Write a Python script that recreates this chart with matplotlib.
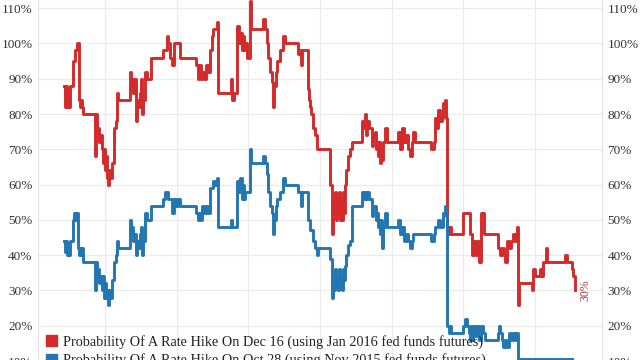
import numpy as np
import matplotlib
matplotlib.use("Agg")
import matplotlib.pyplot as plt
from matplotlib.patches import Patch

# (observation index, hike probability %) step points for each series
dec_steps = [(0, 88), (1, 82), (2, 88), (3, 82), (4, 86), (5, 82), (6, 88), (8, 88), (9, 95),
             (11, 98), (13, 100), (15, 84), (16, 82), (17, 84), (18, 82), (19, 80), (31, 80),
             (31, 68), (32, 80), (33, 74), (34, 76), (35, 72), (36, 74), (38, 70), (39, 66),
             (40, 70), (41, 64), (42, 68), (43, 62), (44, 60), (45, 64), (46, 62), (48, 66),
             (50, 76), (52, 78), (53, 86), (54, 84), (65, 84), (66, 92), (67, 88), (68, 90),
             (69, 86), (70, 90), (72, 78), (73, 84), (74, 82), (76, 86), (77, 90), (78, 80),
             (79, 84), (81, 92), (83, 90), (87, 96), (98, 96), (99, 98), (103, 102),
             (104, 100), (106, 96), (108, 94), (110, 100), (115, 100), (116, 96), (131, 96),
             (132, 94), (134, 90), (135, 94), (137, 90), (138, 92), (140, 90), (142, 94),
             (144, 92), (146, 98), (148, 102), (149, 104), (153, 106), (154, 86), (166, 86),
             (167, 90), (168, 84), (170, 86), (173, 105), (175, 100), (176, 103), (178, 98),
             (179, 102), (180, 98), (181, 100), (183, 96), (186, 112), (187, 104), (198, 104),
             (199, 107), (201, 104), (203, 100), (204, 96), (206, 92), (208, 89), (209, 82),
             (210, 88), (212, 92), (213, 95), (216, 98), (219, 102), (221, 100), (233, 100),
             (234, 97), (236, 98), (237, 94), (238, 98), (244, 87), (245, 84), (246, 82),
             (247, 80), (249, 76), (251, 74), (253, 70), (264, 70), (266, 60), (268, 46),
             (269, 56), (270, 52), (271, 58), (272, 50), (273, 56), (274, 52), (275, 58),
             (276, 50), (277, 55), (278, 50), (279, 58), (280, 52), (281, 60), (282, 64),
             (284, 68), (286, 70), (288, 72), (298, 72), (298, 78), (300, 76), (301, 80),
             (302, 74), (303, 78), (305, 76), (308, 71), (309, 74), (311, 75), (312, 70),
             (313, 72), (314, 68), (315, 72), (316, 66), (317, 70), (318, 67), (319, 72),
             (321, 76), (323, 72), (333, 72), (334, 75), (336, 70), (338, 76), (340, 72),
             (342, 74), (344, 70), (346, 68), (348, 72), (349, 75), (351, 72), (366, 72),
             (367, 70), (370, 72), (371, 79), (373, 76), (374, 81), (376, 78), (378, 79),
             (379, 83), (381, 84), (382, 79), (383, 48), (385, 46), (386, 48), (387, 46),
             (398, 46), (399, 52), (405, 52), (406, 46), (408, 40), (410, 44), (412, 40),
             (414, 44), (415, 38), (417, 52), (419, 52), (420, 46), (433, 46), (434, 42),
             (436, 40), (438, 42), (440, 40), (441, 38), (443, 44), (445, 42), (447, 44),
             (449, 46), (451, 44), (452, 46), (453, 48), (454, 26), (455, 32), (466, 32),
             (468, 30), (469, 36), (471, 34), (475, 34), (476, 36), (477, 34), (479, 38),
             (481, 38), (482, 42), (483, 38), (499, 38), (501, 40), (503, 38), (507, 38),
             (508, 36), (509, 34), (511, 30)]

oct_steps = [(0, 44), (1, 41), (2, 44), (3, 40), (4, 42), (5, 40), (6, 44), (8, 44), (9, 50),
             (10, 52), (11, 50), (12, 52), (14, 42), (15, 40), (16, 42), (17, 40), (18, 42),
             (19, 38), (31, 38), (31, 30), (32, 38), (33, 34), (34, 36), (35, 32), (36, 34),
             (38, 30), (39, 34), (40, 28), (41, 32), (42, 28), (43, 30), (44, 26), (45, 30),
             (46, 28), (48, 33), (50, 38), (52, 40), (53, 44), (54, 42), (65, 42), (66, 50),
             (67, 46), (68, 48), (69, 44), (70, 46), (72, 40), (73, 44), (74, 42), (76, 46),
             (77, 48), (78, 40), (79, 44), (81, 52), (83, 50), (87, 54), (98, 54), (99, 56),
             (101, 58), (103, 58), (104, 56), (106, 56), (108, 52), (110, 56), (112, 54),
             (114, 56), (116, 54), (131, 54), (132, 52), (134, 50), (135, 52), (137, 50),
             (138, 54), (140, 52), (142, 54), (144, 52), (146, 59), (149, 61), (151, 60),
             (153, 62), (154, 48), (166, 48), (167, 50), (168, 48), (173, 61), (175, 58),
             (176, 62), (178, 56), (179, 60), (180, 56), (181, 58), (183, 58), (186, 70),
             (187, 66), (198, 66), (199, 68), (201, 66), (203, 63), (204, 58), (206, 54),
             (208, 52), (209, 46), (210, 50), (212, 54), (213, 56), (216, 58), (219, 62),
             (221, 60), (233, 60), (234, 58), (236, 58), (237, 54), (238, 58), (244, 50),
             (246, 47), (249, 44), (251, 42), (253, 40), (254, 42), (264, 42), (266, 39),
             (268, 28), (269, 32), (270, 30), (271, 36), (272, 31), (273, 34), (274, 30),
             (275, 36), (276, 32), (277, 34), (278, 30), (279, 36), (280, 33), (281, 37),
             (282, 40), (284, 43), (286, 44), (288, 54), (298, 54), (298, 58), (300, 56),
             (301, 58), (302, 56), (303, 58), (305, 56), (308, 51), (309, 54), (311, 54),
             (312, 50), (313, 52), (314, 48), (315, 50), (316, 46), (317, 50), (318, 42),
             (319, 48), (321, 52), (323, 48), (333, 48), (334, 50), (336, 46), (338, 48),
             (340, 44), (342, 46), (344, 44), (346, 42), (348, 44), (349, 46), (366, 46),
             (367, 44), (370, 46), (371, 48), (374, 50), (376, 48), (379, 52), (381, 54),
             (382, 51), (383, 20), (385, 18), (386, 20), (387, 18), (398, 18), (399, 20),
             (401, 22), (403, 20), (405, 18), (406, 16), (407, 20), (408, 16), (409, 20),
             (411, 17), (413, 20), (415, 16), (417, 20), (419, 18), (421, 16), (433, 16),
             (434, 18), (435, 20), (436, 18), (438, 16), (439, 14), (441, 16), (443, 14),
             (445, 18), (447, 16), (449, 18), (451, 16), (452, 18), (453, 18), (454, 10.5),
             (508, 10.5)]

y_ticks = list(range(10, 120, 10))
x_grid = [41, 113, 184, 256, 328, 399, 471]
last_label = "30%"
dec_label = "Probability Of A Rate Hike On Dec 16 (using Jan 2016 fed funds futures)"
oct_label = "Probability Of A Rate Hike On Oct 28 (using Nov 2015 fed funds futures)"

dec_obs, dec_prob = zip(*dec_steps)
oct_obs, oct_prob = zip(*oct_steps)

red = "#d42a2a"
blue = "#2276b2"
grid_c = "#ebebeb"
txt_c = "#333333"
serif = "Liberation Serif"

fig = plt.figure(figsize=(6.4, 3.6), dpi=100)
# axes runs past the bottom edge, like the cropped original
ax = fig.add_axes([38 / 640, -0.052, 564 / 640, 1.052])

ax.step(dec_obs, dec_prob, where="post", color=red, lw=2.1)
ax.step(oct_obs, oct_prob, where="post", color=blue, lw=2.1)

ax.set_xlim(-26, 538)
ax.set_ylim(5, 112.3)
ax.set_yticks(y_ticks)
ax.set_yticklabels([f"{t}%" for t in y_ticks])
ax.set_xticks(x_grid)
ax.set_xticklabels([])
ax.tick_params(axis="x", length=0)
ax.tick_params(axis="y", length=0, pad=4, labelsize=9.5, labelcolor=txt_c,
               left=True, right=True, labelleft=True, labelright=True)
for lab in ax.get_yticklabels():
    lab.set_fontfamily(serif)
ax.grid(True, color=grid_c, lw=0.9)
ax.set_axisbelow(True)
for side in ["top", "bottom"]:
    ax.spines[side].set_visible(False)
for side in ["left", "right"]:
    ax.spines[side].set_color("#e4e4e4")
    ax.spines[side].set_linewidth(0.9)

# end-of-line value label
ax.annotate(last_label, xy=(dec_obs[-1], dec_prob[-1]), xytext=(3, 0),
            textcoords="offset points", rotation=90, ha="left", va="center",
            color="#b03030", fontsize=8.5, fontfamily=serif)

handles = [Patch(color=red), Patch(color=blue)]
fig.legend(handles, [dec_label, oct_label], loc="upper left",
           bbox_to_anchor=(46 / 640, 1 - 335 / 360), frameon=False,
           prop={"family": serif, "size": 10.3}, labelcolor="#222222",
           handlelength=0.8, handleheight=0.8, handletextpad=0.4,
           labelspacing=0.3, borderaxespad=0, borderpad=0)

fig.savefig("out.png", dpi=100)
